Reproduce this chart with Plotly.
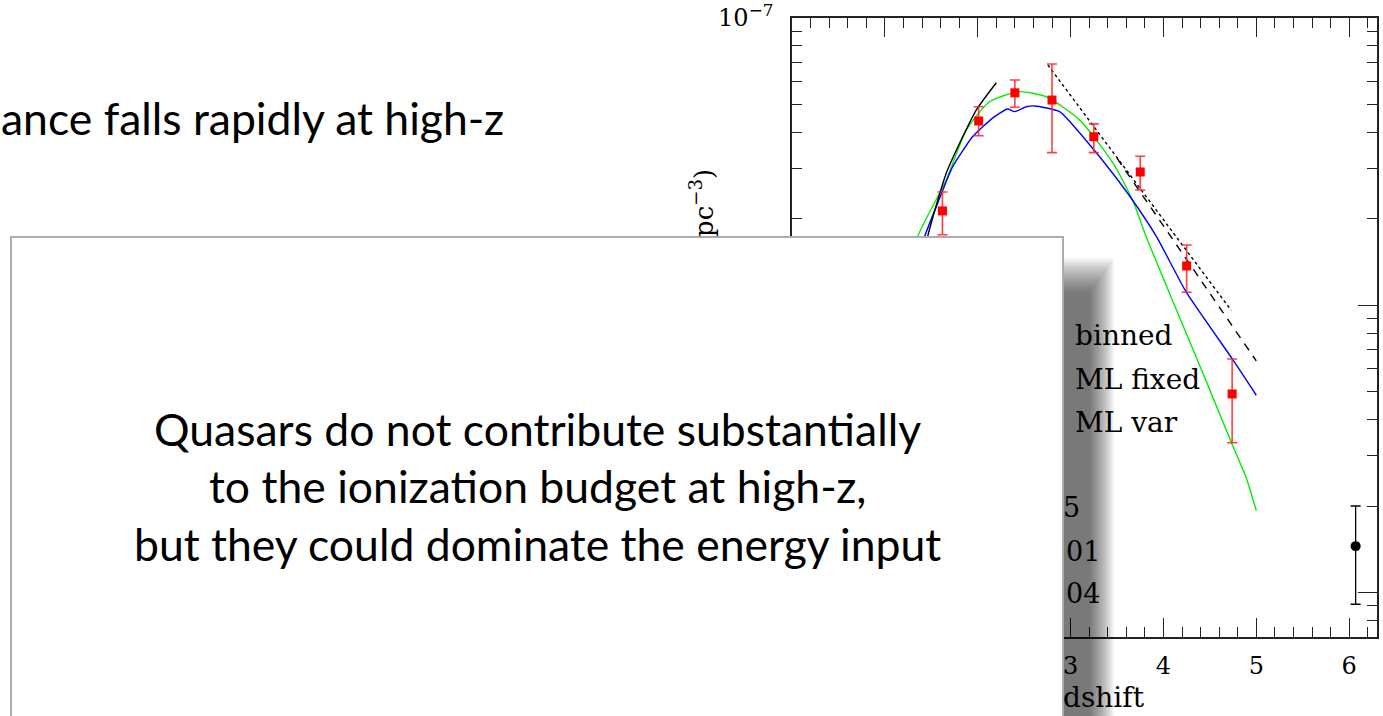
import plotly.graph_objects as go

# ---- binned estimates (red squares) ----
z_bin = [1.62, 2.01, 2.40, 2.80, 3.25, 3.75, 4.25, 4.74]
rho_bin = [2.13e-8, 4.38e-8, 5.49e-8, 5.18e-8, 3.86e-8, 2.91e-8, 1.37e-8, 4.91e-9]
rho_bin_hi = [2.48e-8, 4.91e-8, 6.08e-8, 6.92e-8, 4.28e-8, 3.30e-8, 1.62e-8, 6.50e-9]
rho_bin_lo = [1.76e-8, 3.89e-8, 4.89e-8, 3.40e-8, 3.40e-8, 2.52e-8, 1.11e-8, 3.32e-9]

# ---- high-redshift point (black circle) ----
z_hiz = [6.07]
rho_hiz = [1.45e-9]
rho_hiz_hi = [2.00e-9]
rho_hiz_lo = [9.1e-10]

# ---- ML var model (green) ----
z_var = [1.212, 1.352, 1.661, 1.877, 2.128, 2.451, 2.738, 3.099, 3.456, 3.668, 3.830, 4.390, 4.745, 4.893, 5.0]
rho_var = [1.13e-8, 1.73e-8, 2.73e-8, 4.07e-8, 5.11e-8, 5.54e-8, 5.32e-8, 4.41e-8, 3.13e-8,
           2.32e-8, 1.68e-8, 6.18e-9, 3.25e-9, 2.50e-9, 1.93e-9]

# ---- ML fixed model (blue) ----
z_fix = [1.287, 1.427, 1.553, 1.729, 1.944, 2.160, 2.321, 2.397, 2.523, 2.612, 2.882, 3.237,
         3.453, 3.668, 3.927, 4.246, 4.742, 5.0]
rho_fix = [1.13e-8, 1.73e-8, 2.20e-8, 3.03e-8, 3.86e-8, 4.48e-8, 4.82e-8, 4.72e-8, 4.91e-8,
           4.94e-8, 4.72e-8, 3.52e-8, 2.88e-8, 2.32e-8, 1.73e-8, 1.11e-8, 6.50e-9, 4.86e-9]

# ---- low-z fit (black solid) ----
z_low = [1.352, 1.460, 1.661, 1.837, 1.984, 2.200]
rho_low = [1.13e-8, 1.73e-8, 2.88e-8, 3.85e-8, 4.78e-8, 5.95e-8]

# ---- high-z power laws ----
z_dot = [2.755, 4.73]
rho_dot = [6.86e-8, 9.6e-9]
z_dash = [3.5, 5.0]
rho_dash = [3.25e-8, 6.4e-9]

y_major = [1e-9, 1e-8, 1e-7]
y_major_text = ["10<sup>\u22129</sup>", "10<sup>\u22128</sup>", "10<sup>\u22127</sup>"]
y_minor = [k * 10.0 ** e for e in (-10, -9, -8) for k in range(2, 10)]
x_major = [0, 1, 2, 3, 4, 5, 6]

W, H = 1383, 716
L, R, T, B = 792, 1377, 18, 637


def px(x):
    return (x - L) / (R - L)


def py(y):
    return (B - y) / (B - T)


SERIF = "DejaVu Serif"
SLIDE = "Lato"

fig = go.Figure()

fig.add_trace(go.Scatter(x=z_var, y=rho_var, mode="lines",
                         line=dict(color="#00ee00", width=1.4, shape="spline", smoothing=0.6)))
fig.add_trace(go.Scatter(x=z_fix, y=rho_fix, mode="lines",
                         line=dict(color="#0000ff", width=1.4, shape="spline", smoothing=0.5)))
fig.add_trace(go.Scatter(x=z_low, y=rho_low, mode="lines",
                         line=dict(color="black", width=1.4, shape="spline", smoothing=0.6)))
fig.add_trace(go.Scatter(x=z_dot, y=rho_dot, mode="lines",
                         line=dict(color="black", width=1.4, dash="dot")))
fig.add_trace(go.Scatter(x=z_dash, y=rho_dash, mode="lines",
                         line=dict(color="black", width=1.4, dash="8px,7px")))

fig.add_trace(go.Scatter(
    x=z_bin, y=rho_bin, mode="markers",
    marker=dict(symbol="square", size=9, color="#ff0000"),
    error_y=dict(type="data", symmetric=False,
                 array=[h - v for h, v in zip(rho_bin_hi, rho_bin)],
                 arrayminus=[v - l for v, l in zip(rho_bin, rho_bin_lo)],
                 color="rgba(255,30,30,0.85)", thickness=1.6, width=5)))

fig.add_trace(go.Scatter(
    x=z_hiz, y=rho_hiz, mode="markers",
    marker=dict(symbol="circle", size=10, color="black"),
    error_y=dict(type="data", symmetric=False,
                 array=[h - v for h, v in zip(rho_hiz_hi, rho_hiz)],
                 arrayminus=[v - l for v, l in zip(rho_hiz, rho_hiz_lo)],
                 color="black", thickness=1.3, width=5)))

# drop shadow of the text panel, built from nested translucent rectangles
shapes = []
n_sh = 16
for i in range(n_sh):
    f = i / (n_sh - 1)
    shapes.append(dict(type="rect", xref="paper", yref="paper", layer="above",
                       x0=px(1000), x1=px(1090 + 24 * f),
                       y0=py(760), y1=py(292 - 34 * f),
                       fillcolor="rgba(0,0,0,0.0424)", line=dict(width=0)))
# text panel
shapes.append(dict(type="rect", xref="paper", yref="paper", layer="above",
                   x0=px(11), x1=px(1063), y0=py(760), y1=py(237),
                   fillcolor="white", line=dict(color="#ababab", width=2)))

annotations = []


def note(text, x, y, size, family, xanchor="left", angle=0):
    annotations.append(dict(text=text, x=px(x), y=py(y), xref="paper", yref="paper",
                            xanchor=xanchor, yanchor="middle", showarrow=False,
                            textangle=angle,
                            font=dict(family=family, size=size, color="black")))


note("ance falls rapidly at high-z", 506, 118, 44.5, SLIDE, xanchor="right")
note("Quasars do not contribute substantially", 537, 428, 44.5, SLIDE, xanchor="center")
note("to the ionization budget at high-z,", 537, 485, 44.5, SLIDE, xanchor="center")
note("but they could dominate the energy input", 537, 543, 44.5, SLIDE, xanchor="center")

note("binned", 1073, 335, 28, SERIF)
note("ML fixed", 1073, 379, 28, SERIF)
note("ML var", 1073, 422, 28, SERIF)
note("5", 1061, 507, 27, SERIF)
note("01", 1064, 551, 27, SERIF)
note("04", 1064, 593, 27, SERIF)
note("dshift", 1061, 698, 28, SERIF)
note("pc<sup>\u22123</sup>)", 702, 203, 26, SERIF, xanchor="center", angle=-90)

fig.update_layout(
    width=W, height=H,
    margin=dict(l=L, r=W - R, t=T, b=H - B, pad=0, autoexpand=False),
    paper_bgcolor="white", plot_bgcolor="white",
    showlegend=False,
    shapes=shapes, annotations=annotations,
    xaxis=dict(range=[0, 6.3], tickvals=x_major, ticks="inside", ticklen=19, tickwidth=1.4,
               tickcolor="#222", showline=True, linecolor="#222", linewidth=1.6,
               mirror="allticks", showgrid=False, zeroline=False, automargin=False,
               tickfont=dict(family=SERIF, size=24, color="black"),
               ticklabelstandoff=6,
               minor=dict(dtick=0.2, ticks="inside", ticklen=10, tickwidth=1.2,
                          tickcolor="#222", showgrid=False)),
    yaxis=dict(type="log", range=[-9.155, -7.0], tickvals=y_major, ticktext=y_major_text,
               ticks="inside", ticklen=19, tickwidth=1.4, tickcolor="#222",
               showline=True, linecolor="#222", linewidth=1.6, mirror="allticks",
               showgrid=False, zeroline=False, automargin=False,
               tickfont=dict(family=SERIF, size=24, color="black"),
               ticklabelstandoff=12,
               minor=dict(tickvals=y_minor, ticks="inside", ticklen=10, tickwidth=1.2,
                          tickcolor="#222", showgrid=False)),
)

fig.write_html("out.html")
